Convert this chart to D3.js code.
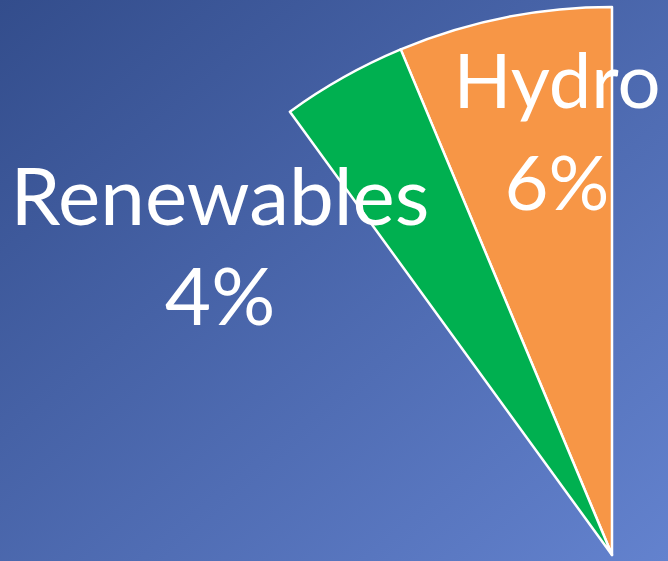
<!DOCTYPE html>
<html><head><meta charset="utf-8">
<script src="https://cdn.jsdelivr.net/npm/d3@7"></script>
<style>html,body{margin:0;padding:0;overflow:hidden;background:#4a66aa}</style>
</head><body>
<script>
const categories = ["Hydro", "Renewables"];
const values = [6.3, 3.7];
const labels = ["6%", "4%"];
const colors = ["#f79646", "#00b050"];

const W = 668, H = 561;
const svg = d3.select("body").append("svg").attr("width", W).attr("height", H);
const defs = svg.append("defs");
const g = defs.append("linearGradient").attr("id", "bg")
  .attr("x1", "0%").attr("y1", "0%").attr("x2", "100%").attr("y2", "100%");
g.append("stop").attr("offset", "0%").attr("stop-color", "#334d8c");
g.append("stop").attr("offset", "100%").attr("stop-color", "#6382ce");
svg.append("rect").attr("width", W).attr("height", H).attr("fill", "url(#bg)");

const cx = 612, cy = 555, R = 548;
const angle = d3.scaleLinear().domain([0, 100]).range([0, -2 * Math.PI]);
let cum = 0;
const slices = values.map((v, i) => {
  const s = { name: categories[i], startAngle: angle(cum), endAngle: angle(cum + v), color: colors[i] };
  cum += v; return s;
});
const arc = d3.arc().innerRadius(0).outerRadius(R);
svg.append("g").attr("transform", `translate(${cx},${cy})`)
  .selectAll("path").data(slices).join("path")
  .attr("d", d => arc({ startAngle: d.endAngle, endAngle: d.startAngle }))
  .attr("fill", d => d.color)
  .attr("stroke", "#fff").attr("stroke-width", 2.5).attr("stroke-linejoin", "round");

const labelPos = [{ x: 557, y1: 108, y2: 210, fs: 76 }, { x: 220, y1: 225, y2: 325, fs: 80 }];
const lg = svg.append("g").attr("font-family", "Lato, 'Open Sans', sans-serif")
  .attr("fill", "#fff").attr("text-anchor", "middle");
categories.forEach((c, i) => {
  lg.append("text").attr("x", labelPos[i].x).attr("y", labelPos[i].y1).attr("font-size", labelPos[i].fs).text(c);
  lg.append("text").attr("x", labelPos[i].x).attr("y", labelPos[i].y2).attr("font-size", labelPos[i].fs).text(labels[i]);
});
</script>
</body></html>
